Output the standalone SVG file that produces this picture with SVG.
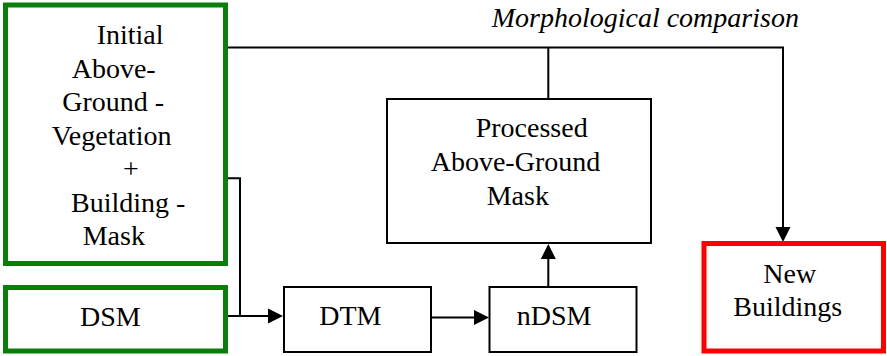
<svg xmlns="http://www.w3.org/2000/svg" width="887" height="356" viewBox="0 0 887 356">
  <rect width="887" height="356" fill="#ffffff"/>

  <g id="connectors">
    <g fill="none" stroke="#000000" stroke-width="2">
      <!-- initial mask to new buildings, with branch from processed mask -->
      <path d="M228,47.5 H783 V228"/>
      <path d="M548.3,47.5 V99"/>
      <!-- initial mask and DSM into DTM -->
      <path d="M228,178.3 H240 V316"/>
      <path d="M228,316 H268"/>
      <!-- DTM to nDSM -->
      <path d="M431,317.5 H474"/>
      <!-- nDSM to processed mask -->
      <path d="M548.3,287 V258"/>
    </g>
    <!-- arrowheads -->
    <g fill="#000000">
      <polygon points="775.5,227 790.5,227 783,242"/>
      <polygon points="268,308.5 283,316 268,323.5"/>
      <polygon points="474,310 489,317.5 474,325"/>
      <polygon points="540.8,259 555.8,259 548.3,244"/>
    </g>
  </g>

  <text x="491.7" y="26.7" font-family="Liberation Serif" font-size="28" font-style="italic">Morphological comparison</text>

  <g id="initial-mask">
    <rect x="5.5" y="5" width="220" height="258.5" fill="#ffffff" stroke="#0a7d0a" stroke-width="5"/>
    <text x="96.7" y="44" font-family="Liberation Serif" font-size="28">Initial</text>
    <text x="71.7" y="77.5" font-family="Liberation Serif" font-size="28">Above-</text>
    <text x="62.3" y="111" font-family="Liberation Serif" font-size="28">Ground -</text>
    <text x="51.7" y="144.5" font-family="Liberation Serif" font-size="28">Vegetation</text>
    <text x="123" y="178" font-family="Liberation Serif" font-size="28">+</text>
    <text x="71" y="211.5" font-family="Liberation Serif" font-size="28">Building -</text>
    <text x="82.7" y="245" font-family="Liberation Serif" font-size="28">Mask</text>
  </g>

  <g id="dsm">
    <rect x="5.5" y="287.5" width="220" height="63.5" fill="#ffffff" stroke="#0a7d0a" stroke-width="5"/>
    <text x="80" y="326" font-family="Liberation Serif" font-size="28">DSM</text>
  </g>

  <g id="dtm">
    <rect x="284" y="287" width="147" height="65" fill="#ffffff" stroke="#000000" stroke-width="2"/>
    <text x="319.3" y="325" font-family="Liberation Serif" font-size="28">DTM</text>
  </g>

  <g id="ndsm">
    <rect x="489.5" y="287" width="147" height="65" fill="#ffffff" stroke="#000000" stroke-width="2"/>
    <text x="516.7" y="325" font-family="Liberation Serif" font-size="28">nDSM</text>
  </g>

  <g id="processed-mask">
    <rect x="387" y="99" width="264" height="144" fill="#ffffff" stroke="#000000" stroke-width="2"/>
    <text x="475.7" y="136.7" font-family="Liberation Serif" font-size="28">Processed</text>
    <text x="430.7" y="171" font-family="Liberation Serif" font-size="28">Above-Ground</text>
    <text x="486.7" y="205" font-family="Liberation Serif" font-size="28">Mask</text>
  </g>

  <g id="new-buildings">
    <rect x="704" y="243.5" width="179.5" height="107.5" fill="#ffffff" stroke="#ff0000" stroke-width="5"/>
    <text x="763.3" y="282.7" font-family="Liberation Serif" font-size="28">New</text>
    <text x="733.3" y="316" font-family="Liberation Serif" font-size="28">Buildings</text>
  </g>
</svg>
